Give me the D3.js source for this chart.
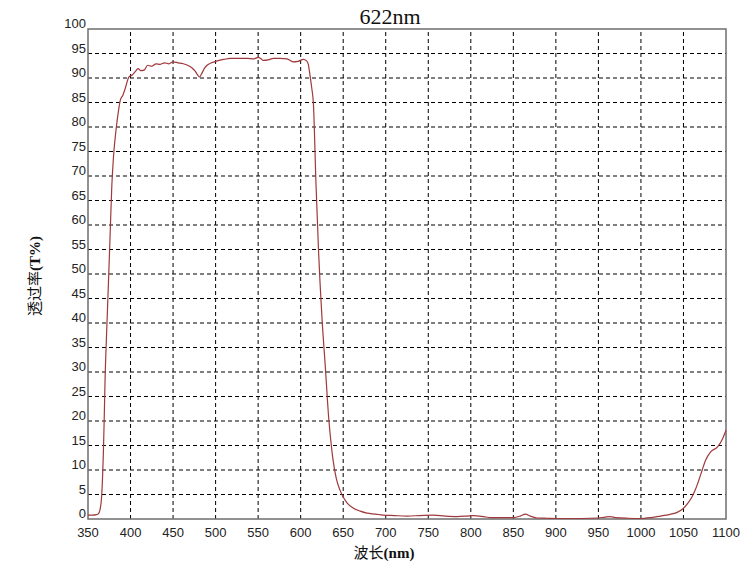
<!DOCTYPE html>
<html>
<head>
<meta charset="utf-8">
<script src="https://cdn.jsdelivr.net/npm/d3@7"></script>
<style>
  body { margin: 0; background: #fff; }
  svg { display: block; }
</style>
</head>
<body>
<svg id="chart"></svg>
<script>
// wavelength (nm) and transmission (%)
const wavelength = [350, 355, 360, 362, 364, 366, 367, 368, 369, 370, 372, 374, 376, 378, 380, 383, 386, 388, 391, 394,
  398, 402, 405, 409, 412, 416, 420, 425, 430, 435, 440, 445, 450, 456, 462, 467, 472, 476, 479, 481,
  484, 487, 490, 495, 502, 510, 517, 525, 537, 545, 550, 553, 556, 562, 568, 576, 584, 591, 597, 603,
  607, 609, 611, 613, 615, 618, 621, 625, 629, 633, 637, 642, 646, 650, 655, 662, 670, 678, 688, 697,
  710, 725, 740, 756, 770, 784, 795, 803, 815, 823, 835, 850, 858, 864, 870, 878, 890, 910, 930, 950,
  958, 964, 970, 985, 999, 1012, 1023, 1033, 1042, 1050, 1055, 1060, 1064, 1068, 1072, 1076, 1082, 1090, 1096, 1100];
const transmission = [0.8, 0.8, 0.9, 1.0, 1.8, 4.5, 8, 13, 20, 28, 38.5, 48, 58, 68, 74, 79.5, 83.5, 85.5, 86.5, 88,
  90.2, 90.6, 91.2, 91.9, 91.5, 91.6, 92.6, 92.4, 92.9, 92.8, 93.1, 92.9, 93.3, 93.1, 92.9, 92.6, 92.1, 91.4, 90.6, 90.2,
  91.0, 92.0, 92.6, 93.1, 93.5, 93.8, 94.0, 94.0, 94.0, 93.9, 94.2, 94.0, 93.6, 93.7, 94.0, 94.0, 93.9, 93.3, 93.4, 93.8,
  93.5, 92.8, 90.5, 88, 84.7, 68.4, 54.8, 41.2, 31, 20.5, 13.5, 8.2, 6, 4.5, 3.2, 2.2, 1.6, 1.2, 1.0, 0.8,
  0.7, 0.6, 0.7, 0.8, 0.6, 0.5, 0.6, 0.7, 0.5, 0.3, 0.3, 0.3, 0.6, 1.0, 0.6, 0.2, 0.15, 0.1, 0.1, 0.2,
  0.4, 0.5, 0.3, 0.15, 0.1, 0.3, 0.6, 0.9, 1.3, 2.2, 3.2, 4.5, 6, 7.9, 10, 12, 13.7, 14.7, 16.4, 18.1];

const xTicks = d3.range(350, 1101, 50);
const yTicks = d3.range(0, 101, 5);

const width = 750;
const height = 565;
const margin = { top: 29, right: 24, bottom: 46, left: 88 };

const svg = d3.select("#chart")
  .attr("width", width)
  .attr("height", height);

const x = d3.scaleLinear().domain([350, 1100]).range([margin.left, width - margin.right]);
const y = d3.scaleLinear().domain([0, 100]).range([height - margin.bottom, margin.top]);

// dashed grid
svg.append("g")
  .selectAll("line")
  .data(xTicks.slice(1, -1))
  .join("line")
  .attr("x1", d => x(d)).attr("x2", d => x(d))
  .attr("y1", y(0)).attr("y2", y(100))
  .attr("stroke", "#000")
  .attr("stroke-width", 1)
  .attr("stroke-dasharray", "4,3");

svg.append("g")
  .selectAll("line")
  .data(yTicks.slice(1, -1))
  .join("line")
  .attr("x1", x(350)).attr("x2", x(1100))
  .attr("y1", d => y(d)).attr("y2", d => y(d))
  .attr("stroke", "#000")
  .attr("stroke-width", 1)
  .attr("stroke-dasharray", "4,3");

// frame
svg.append("rect")
  .attr("x", x(350)).attr("y", y(100))
  .attr("width", x(1100) - x(350))
  .attr("height", y(0) - y(100))
  .attr("fill", "none")
  .attr("stroke", "#6e6e6e")
  .attr("stroke-width", 1.5);

// tick labels
svg.append("g")
  .selectAll("text")
  .data(yTicks)
  .join("text")
  .attr("x", x(350) - 2)
  .attr("y", d => y(d))
  .attr("dy", "-0.05em")
  .attr("text-anchor", "end")
  .attr("font-family", "Liberation Sans, Arial, sans-serif")
  .attr("font-size", 13)
  .attr("fill", "#222")
  .text(d => d);

svg.append("g")
  .selectAll("text")
  .data(xTicks)
  .join("text")
  .attr("x", d => x(d))
  .attr("y", y(0) + 18)
  .attr("text-anchor", "middle")
  .attr("font-family", "Liberation Sans, Arial, sans-serif")
  .attr("font-size", 13)
  .attr("fill", "#222")
  .text(d => d);

// spectrum line
const line = d3.line()
  .x((d, i) => x(wavelength[i]))
  .y(d => y(d))
  .curve(d3.curveMonotoneX);

svg.append("path")
  .datum(transmission)
  .attr("d", line)
  .attr("fill", "none")
  .attr("stroke", "#a0393c")
  .attr("stroke-width", 1.2);

// titles
svg.append("text")
  .attr("x", 390)
  .attr("y", 24)
  .attr("text-anchor", "middle")
  .attr("font-family", "Liberation Serif, Times New Roman, serif")
  .attr("font-size", 22)
  .attr("fill", "#111")
  .text("622nm");

const xl = svg.append("text")
  .attr("x", 384)
  .attr("y", 558)
  .attr("text-anchor", "middle")
  .attr("font-size", 15)
  .attr("fill", "#111");
xl.append("tspan").attr("font-family", "Noto Sans CJK SC").text("波长");
xl.append("tspan").attr("font-family", "Liberation Serif, serif").attr("font-weight", "bold").text("(nm)");

const yl = svg.append("text")
  .attr("transform", "translate(40,276) rotate(-90)")
  .attr("text-anchor", "middle")
  .attr("font-size", 15)
  .attr("fill", "#111");
yl.append("tspan").attr("font-family", "Noto Sans CJK SC").text("透过率");
yl.append("tspan").attr("font-family", "Liberation Serif, serif").attr("font-weight", "bold").text("(T%)");
</script>
</body>
</html>
